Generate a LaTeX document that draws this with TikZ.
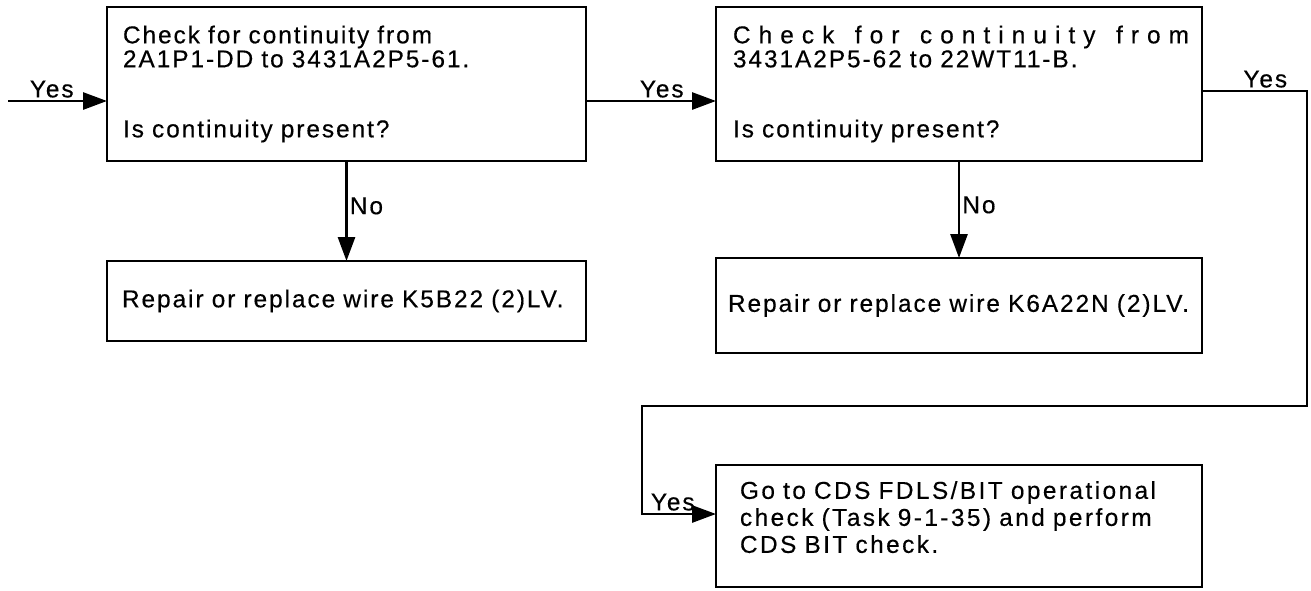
\documentclass[tikz,border=0pt]{standalone}
\usepackage{fontspec}
\setmainfont{Liberation Sans}[LetterSpace=8,FakeBold=0.4]
\newfontfamily\spreadfont{Liberation Sans}[LetterSpace=33,FakeBold=0.4]
\newfontfamily\widefont{Liberation Sans}[LetterSpace=10,FakeBold=0.4]
\usetikzlibrary{positioning,arrows.meta}

\newcommand\boxfont{\fontsize{12.2}{12}\selectfont\spaceskip=4.6pt plus 1pt minus 0.5pt\relax}
\newcommand\cdsfont{\widefont\fontsize{12.2}{13.5}\selectfont\spaceskip=4.6pt plus 1pt minus 0.5pt\relax}

\begin{document}
\begin{tikzpicture}[
		node distance=50pt and 65pt,
		font=\boxfont,
		checkbox/.style={
			draw,
			line width=1.4pt,
			outer sep=0pt,
			align=left,
			inner xsep=8pt,
			minimum height=77pt,
			text width=223.5pt
		},
		arrow/.style={-{Triangle[length=12pt,width=8.5pt]}, line width=1.4pt},
		answer/.style={inner sep=1pt}
	]
		\useasboundingbox (0,0) rectangle (655.5pt,-295pt);

		\node[checkbox, anchor=north west] (chk1) at (53.5pt,-3.5pt) {
			Check for continuity from\\
			2A1P1-DD to 3431A2P5-61.\\[23pt]
			Is continuity present?
		};
		\node[checkbox, right=of chk1, text width=226pt, inner xsep=8.5pt] (chk2) {
			\hbox to 228pt{\spreadfont Check\hfill for\hfill continuity\hfill from}\\
			3431A2P5-62 to 22WT11-B.\\[23pt]
			Is continuity present?
		};
		\node[checkbox, below=of chk1, minimum height=40pt, inner xsep=7.5pt, text width=224.5pt] (rep1) {
			Repair or replace wire K5B22 (2)LV.
		};
		\node[checkbox, below=48.5pt of chk2, minimum height=47.5pt, inner xsep=6pt, text width=231pt] (rep2) {
			Repair or replace wire K6A22N (2)LV.
		};
		\node[checkbox, below=56pt of rep2, minimum height=61pt, inner xsep=12pt, text width=219pt,
			font=\cdsfont] (cds) {
			Go to CDS FDLS/BIT operational\\
			check (Task 9-1-35) and perform\\
			CDS BIT check.\rule[-9pt]{0pt}{1pt}
		};

		\coordinate (entry) at (4pt,-50.5pt);
		\coordinate (rturn) at (653.5pt,-203pt);
		\coordinate (lturn) at (321pt,-203pt);

		\draw[arrow] (entry) -- ([yshift=-8.5pt]chk1.west)
			node[answer, pos=1, anchor=south east, xshift=-15pt] {Yes};
		\draw[arrow] ([yshift=-8.5pt]chk1.east) -- ([yshift=-8.5pt]chk2.west)
			node[answer, pos=1, anchor=south east, xshift=-14.5pt] {Yes};
		\draw[arrow] (chk1) -- (rep1) node[answer, pos=0.33, anchor=north west] {No};
		\draw[arrow] (chk2) -- (rep2) node[answer, pos=0.33, anchor=north west] {No};
		\draw[arrow] ([yshift=-3.5pt]chk2.east)
			node[answer, anchor=south west, xshift=19pt] {Yes}
			-| (rturn) -- (lturn) |- ([yshift=6pt]cds.west)
			node[answer, pos=1, anchor=south east, xshift=-9pt] {Yes};
	\end{tikzpicture}
\end{document}
